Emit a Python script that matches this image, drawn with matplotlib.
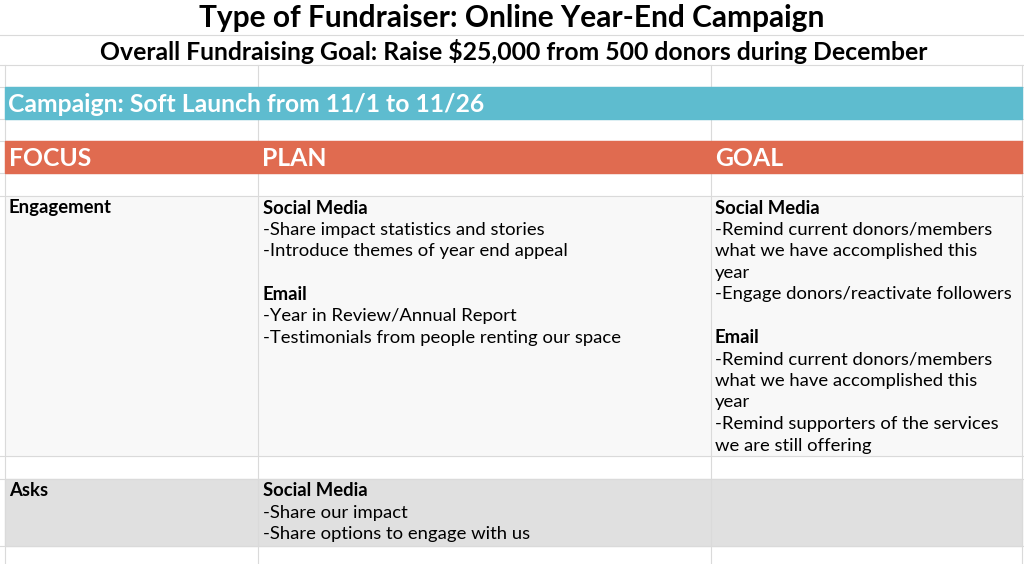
import matplotlib
matplotlib.use('Agg')
import matplotlib.pyplot as plt
from matplotlib.patches import Rectangle

plt.rcParams['font.family'] = 'Lato'

# ----- Content -----
title = "Type of Fundraiser: Online Year-End Campaign"
subtitle = "Overall Fundraising Goal: Raise $25,000 from 500 donors during December"
campaign = "Campaign: Soft Launch from 11/1 to 11/26"
headers = ["FOCUS", "PLAN", "GOAL"]

focus = ["Engagement", "Asks"]
plan = [
    ["*Social Media", "-Share impact statistics and stories", "-Introduce themes of year end appeal", "",
     "*Email", "-Year in Review/Annual Report", "-Testimonials from people renting our space"],
    ["*Social Media", "-Share our impact", "-Share options to engage with us"],
]
goal = [
    ["*Social Media", "-Remind current donors/members", "what we have accomplished this", "year",
     "-Engage donors/reactivate followers", "", "*Email", "-Remind current donors/members",
     "what we have accomplished this", "year", "-Remind supporters of the services",
     "we are still offering"],
    [],
]

# ----- Layout (pixels) -----
W, H = 1024, 564
cols = [5, 258, 711, 1022]
rows = [0, 35, 65, 87, 119, 141, 173, 196, 456, 479, 546, 564]
teal, orange = '#5ebccf', '#e06b50'
row_bg = ['#f8f8f8', '#e0e0e0']
line_h = 21.6

fig = plt.figure(figsize=(W / 100, H / 100), dpi=100)
ax = fig.add_axes([0, 0, 1, 1])
ax.set_xlim(0, W)
ax.set_ylim(H, 0)
ax.axis('off')

# body row backgrounds
for bg, (y0, y1) in zip(row_bg, [(196, 456), (479, 546)]):
    ax.add_patch(Rectangle((cols[0], y0), cols[-1] - cols[0], y1 - y0, color=bg, zorder=0))

# grid lines
for y in rows[1:-1]:
    ax.plot([0, W], [y, y], color='#dadada', lw=0.8, zorder=1)
for x in cols:
    ax.plot([x, x], [65, H], color='#dadada', lw=0.8, zorder=1)

# bands
ax.add_patch(Rectangle((cols[0], 87), cols[-1] - cols[0], 32, color=teal, zorder=2))
ax.add_patch(Rectangle((cols[0], 141), cols[-1] - cols[0], 32, color=orange, zorder=2))

ax.text(512, 18, title, ha='center', va='center', fontsize=21.5, fontweight='bold', color='black')
ax.text(514, 51, subtitle, ha='center', va='center', fontsize=17.8, fontweight='bold', color='black')
ax.text(8, 104, campaign, ha='left', va='center', fontsize=17.8, fontweight='bold', color='white', zorder=3)
for x, h in zip(cols[:3], headers):
    ax.text(x + 4, 158, h, ha='left', va='center', fontsize=17.8, fontweight='bold', color='white', zorder=3)


def draw_lines(x, y, lines):
    for i, s in enumerate(lines):
        bold = s.startswith('*')
        ax.text(x, y + i * line_h, s.lstrip('*'), ha='left', va='center', fontsize=13.3,
                fontweight='bold' if bold else 'normal', color='black', zorder=3)


for y0, f, p, g in zip([208, 491], focus, plan, goal):
    draw_lines(cols[0] + 4, y0, ['*' + f])
    draw_lines(cols[1] + 5, y0, p)
    draw_lines(cols[2] + 4, y0, g)

fig.savefig('out.png', dpi=100)
